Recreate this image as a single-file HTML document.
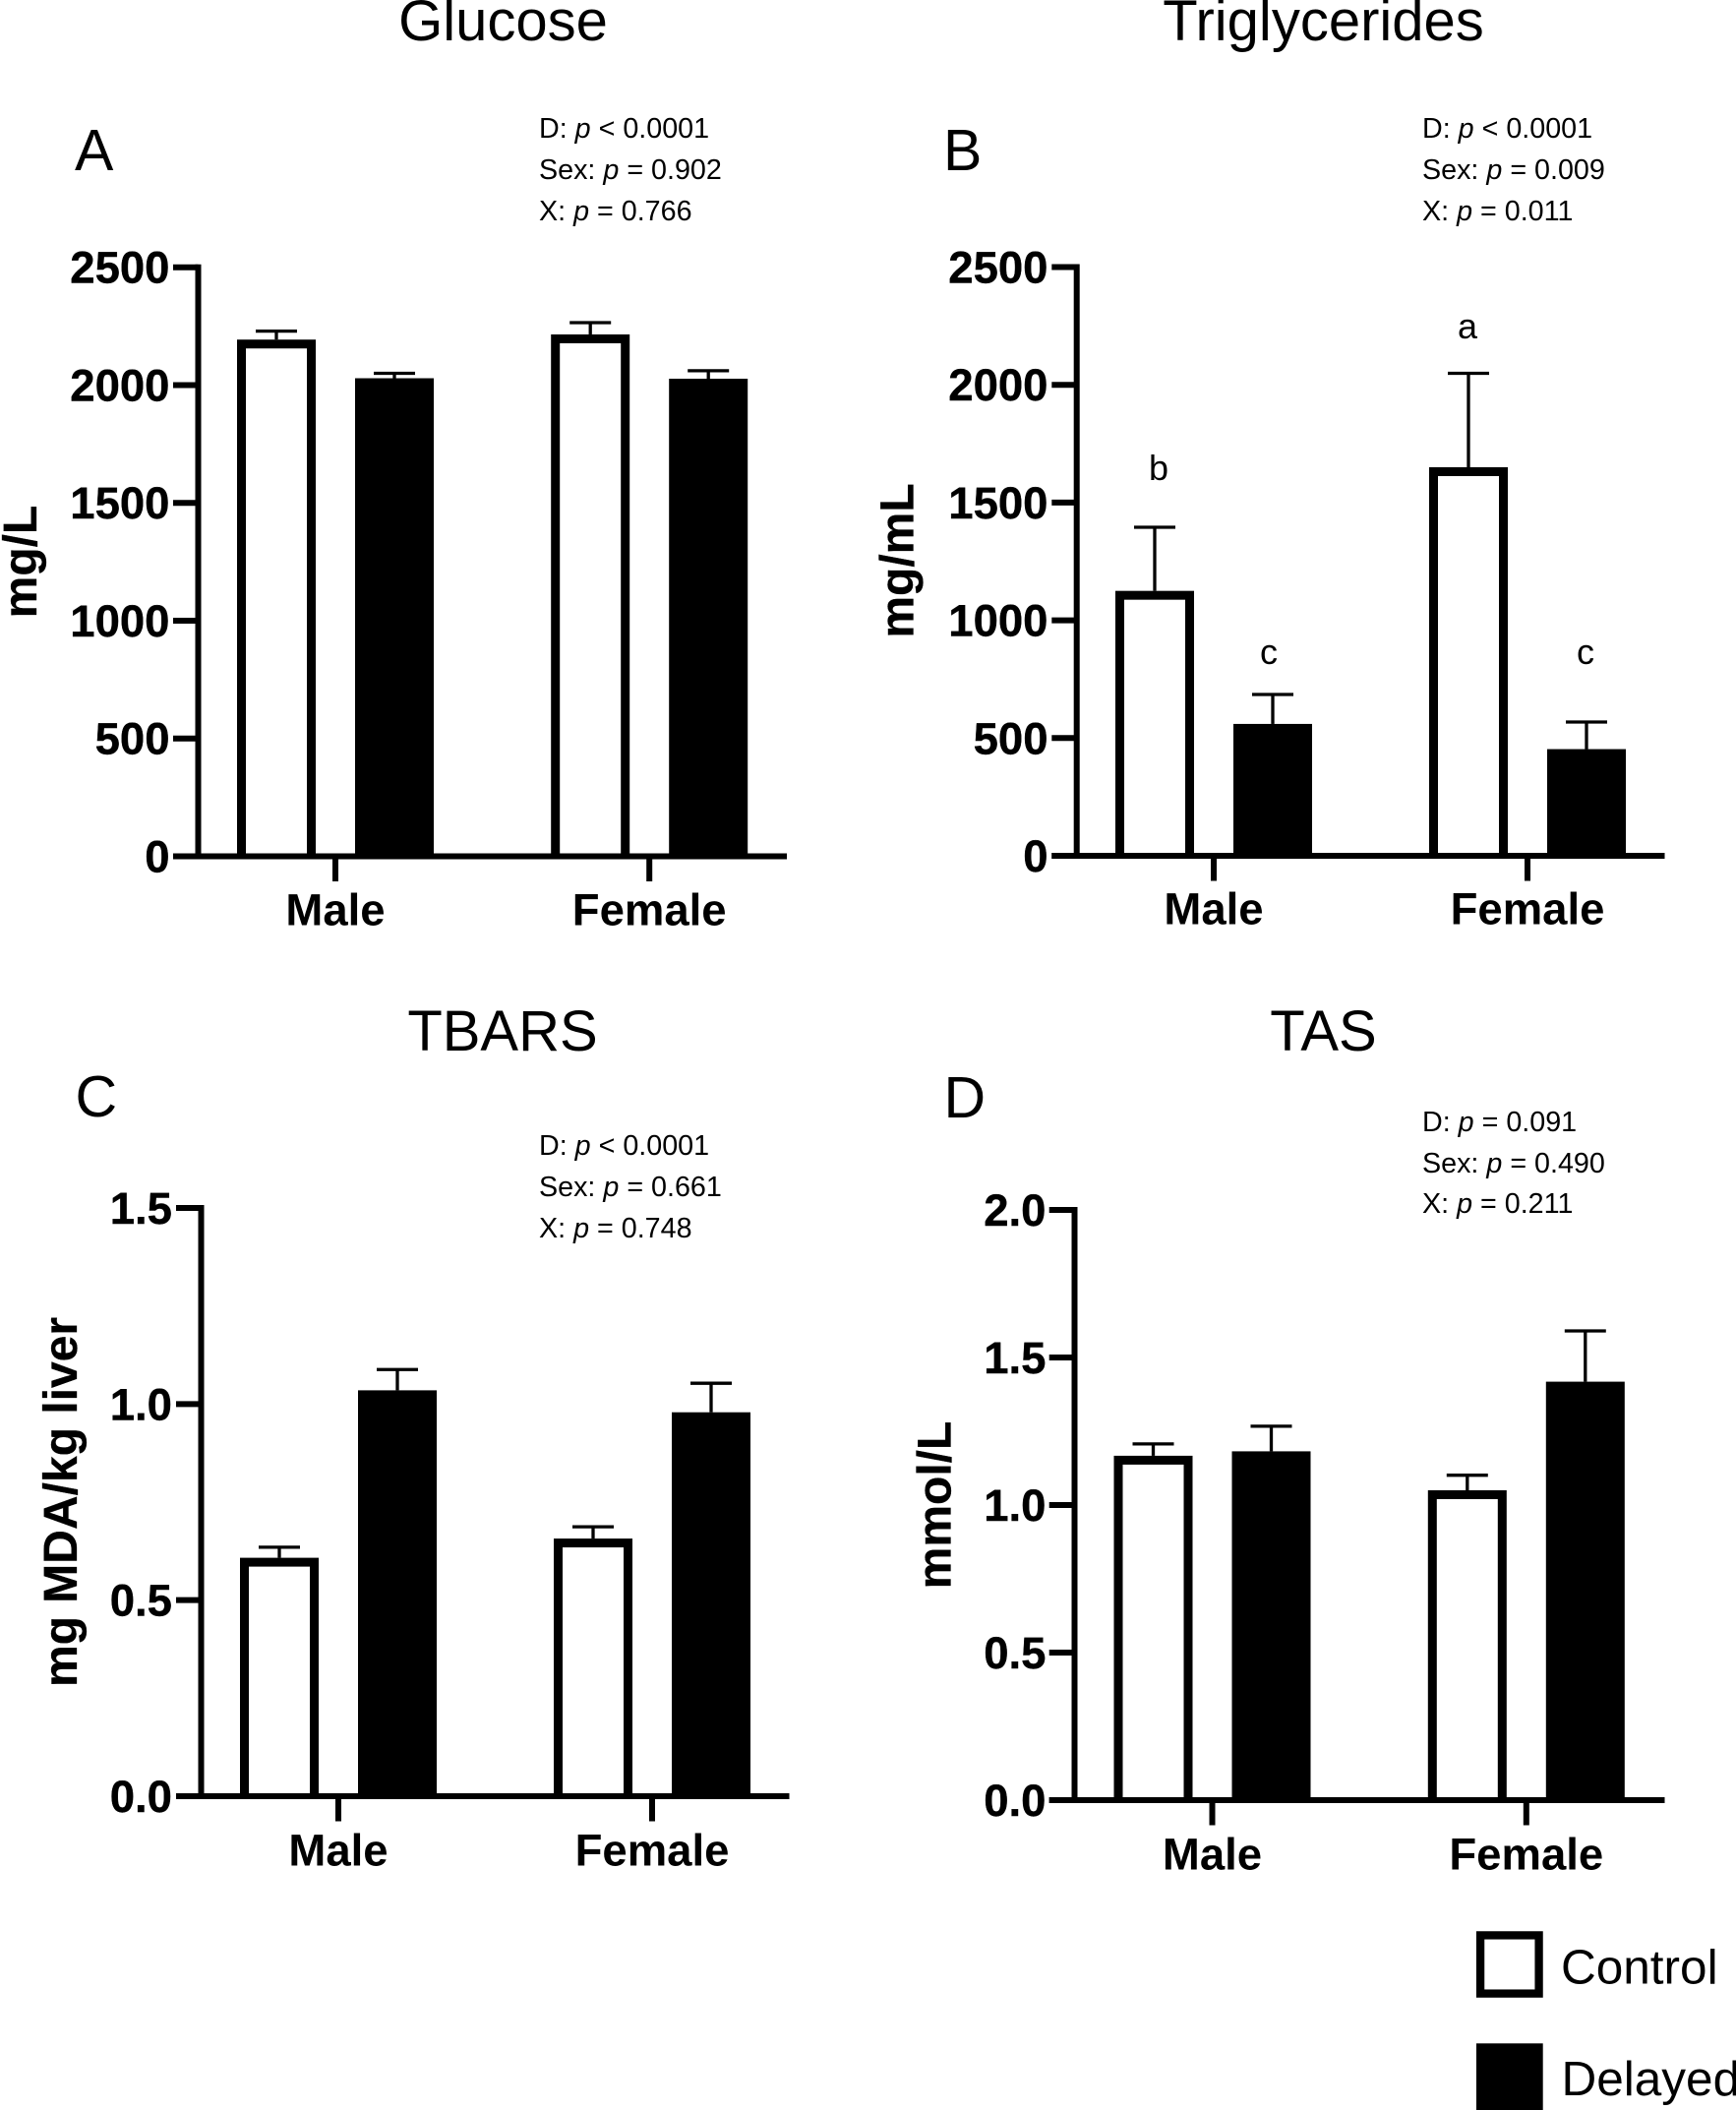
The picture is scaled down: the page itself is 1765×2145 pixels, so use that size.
<!DOCTYPE html>
<html lang="en">
<head>
<meta charset="utf-8">
<title>Glucose, Triglycerides, TBARS and TAS bar charts</title>
<style>
  html, body { margin: 0; padding: 0; background: #fff; }
  svg { display: block; }
  text { font-family: "Liberation Sans", Arial, sans-serif; fill: #000; }
  .title { font-size: 58px; text-anchor: middle; }
  .letter { font-size: 59px; }
  .stat { font-size: 28.7px; }
  .sig { font-size: 36px; text-anchor: middle; }
  .legend-text { font-size: 49.5px; }
  .tick-label { font-size: 45.5px; font-weight: bold; text-anchor: end; stroke: #000; stroke-width: 0.4px; }
  .cat-label { font-size: 45.5px; font-weight: bold; text-anchor: middle; }
  .y-title { font-size: 48px; font-weight: bold; text-anchor: middle; stroke: #000; stroke-width: 0.3px; }
</style>
</head>
<body>
<svg id="figure" xmlns="http://www.w3.org/2000/svg" width="1765" height="2145" viewBox="0 0 1765 2145">
  <rect x="0" y="0" width="1765" height="2145" fill="#fff"/>

  <text class="title" x="511.5" y="41">Glucose</text>
  <text class="title" x="1345.5" y="41">Triglycerides</text>
  <text class="title" x="511" y="1068">TBARS</text>
  <text class="title" x="1345.5" y="1068">TAS</text>

  <text class="letter" x="76" y="173">A</text>
  <text class="letter" x="959" y="173">B</text>
  <text class="letter" x="76.5" y="1135">C</text>
  <text class="letter" x="959.5" y="1136">D</text>

  <g>
    <text class="stat" x="548" y="140">D: <tspan font-style="italic">p</tspan> &lt; 0.0001</text>
    <text class="stat" x="548" y="182">Sex: <tspan font-style="italic">p</tspan> = 0.902</text>
    <text class="stat" x="548" y="224">X: <tspan font-style="italic">p</tspan> = 0.766</text>
  </g>
  <g>
    <text class="stat" x="1446" y="140">D: <tspan font-style="italic">p</tspan> &lt; 0.0001</text>
    <text class="stat" x="1446" y="182">Sex: <tspan font-style="italic">p</tspan> = 0.009</text>
    <text class="stat" x="1446" y="224">X: <tspan font-style="italic">p</tspan> = 0.011</text>
  </g>
  <g>
    <text class="stat" x="548" y="1174">D: <tspan font-style="italic">p</tspan> &lt; 0.0001</text>
    <text class="stat" x="548" y="1216">Sex: <tspan font-style="italic">p</tspan> = 0.661</text>
    <text class="stat" x="548" y="1258">X: <tspan font-style="italic">p</tspan> = 0.748</text>
  </g>
  <g>
    <text class="stat" x="1446" y="1150">D: <tspan font-style="italic">p</tspan> = 0.091</text>
    <text class="stat" x="1446" y="1192">Sex: <tspan font-style="italic">p</tspan> = 0.490</text>
    <text class="stat" x="1446" y="1233">X: <tspan font-style="italic">p</tspan> = 0.211</text>
  </g>

  <g>
    <text class="sig" x="1178" y="488">b</text>
    <text class="sig" x="1290" y="675">c</text>
    <text class="sig" x="1492" y="344">a</text>
    <text class="sig" x="1612" y="675">c</text>
  </g>

  <g>
    <rect x="1505.1" y="1967.4" width="59.5" height="59.2" fill="#fff" stroke="#000" stroke-width="8.3"/>
    <text class="legend-text" x="1587" y="2016.7">Control</text>
    <rect x="1501" y="2077.3" width="67.7" height="67.7" fill="#000"/>
    <text class="legend-text" x="1587.5" y="2130">Delayed</text>
  </g>
</svg>

<script>
const categories = ['Male', 'Female'];

const glucoseControl = [2193, 2215];
const glucoseControlErr = [36, 50];
const glucoseDelayed = [2029, 2027];
const glucoseDelayedErr = [21, 34];
const glucoseTicks = [0, 500, 1000, 1500, 2000, 2500];
const glucoseTickLabels = ['0', '500', '1000', '1500', '2000', '2500'];

const trigControl = [1125, 1650];
const trigControlErr = [270, 399];
const trigDelayed = [560, 453];
const trigDelayedErr = [125, 115];
const trigTicks = [0, 500, 1000, 1500, 2000, 2500];
const trigTickLabels = ['0', '500', '1000', '1500', '2000', '2500'];

const tbarsControl = [0.608, 0.657];
const tbarsControlErr = [0.027, 0.03];
const tbarsDelayed = [1.035, 0.979];
const tbarsDelayedErr = [0.053, 0.074];
const tbarsTicks = [0, 0.5, 1, 1.5];
const tbarsTickLabels = ['0.0', '0.5', '1.0', '1.5'];

const tasControl = [1.167, 1.05];
const tasControlErr = [0.04, 0.051];
const tasDelayed = [1.182, 1.418];
const tasDelayedErr = [0.085, 0.172];
const tasTicks = [0, 0.5, 1, 1.5, 2];
const tasTickLabels = ['0.0', '0.5', '1.0', '1.5', '2.0'];

const svg = document.getElementById('figure');
const NS = 'http://www.w3.org/2000/svg';

function make(tag, parent, attrs) {
  const node = document.createElementNS(NS, tag);
  Object.keys(attrs).forEach(function (k) { node.setAttribute(k, attrs[k]); });
  parent.appendChild(node);
  return node;
}

function drawPanel(p) {
  const yScale = function (v) { return p.bottom - (v / p.yMax) * (p.bottom - p.top); };
  const xScale = function (i) { return p.x0 + i * p.step; };
  const AXIS = 6, BAR = 80, STROKE = 9, OFFSET = 60, CAP = 42, ERR = 3.3;

  const group = make('g', svg, {});
  
  

  categories.forEach(function (cat, i) {
    const cx = xScale(i);
    const key = cat.toLowerCase();

    // Control bar: black outer shape with a white interior, open at the axis
    const cCenter = cx - OFFSET;
    const cTop = yScale(p.control[i]);
    const cErr = yScale(p.control[i] + p.controlErr[i]);
    const cStem = make('line', group, { x1: cCenter, x2: cCenter, y1: cTop, y2: cErr, stroke: '#000', 'stroke-width': ERR });
    
    
    const cCap = make('line', group, { x1: cCenter - CAP / 2, x2: cCenter + CAP / 2, y1: cErr, y2: cErr, stroke: '#000', 'stroke-width': ERR });
    
    
    const cBar = make('rect', group, {
      x: cCenter - BAR / 2,
      y: cTop,
      width: BAR,
      height: Math.max(0, p.bottom - cTop),
      fill: '#000'
    });
    
    
    const cFill = make('rect', group, {
      x: cCenter - BAR / 2 + STROKE,
      y: cTop + STROKE,
      width: BAR - 2 * STROKE,
      height: Math.max(0, p.bottom - cTop - STROKE),
      fill: '#fff'
    });
    
    

    // Delayed bar
    const dCenter = cx + OFFSET;
    const dTop = yScale(p.delayed[i]);
    const dErr = yScale(p.delayed[i] + p.delayedErr[i]);
    const dStem = make('line', group, { x1: dCenter, x2: dCenter, y1: dTop, y2: dErr, stroke: '#000', 'stroke-width': ERR });
    
    
    const dCap = make('line', group, { x1: dCenter - CAP / 2, x2: dCenter + CAP / 2, y1: dErr, y2: dErr, stroke: '#000', 'stroke-width': ERR });
    
    
    const dBar = make('rect', group, {
      x: dCenter - BAR / 2,
      y: dTop,
      width: BAR,
      height: Math.max(0, p.bottom - dTop),
      fill: '#000'
    });
    
    

    // Category tick and label
    const xTick = make('line', group, { x1: cx, x2: cx, y1: p.bottom, y2: p.bottom + 25.5, stroke: '#000', 'stroke-width': AXIS });
    
    
    const xLabel = make('text', group, { class: 'cat-label', x: cx, y: p.catY });
    
    
    xLabel.textContent = cat;
  });

  // Y axis
  const yAxis = make('line', group, { x1: p.axisX, x2: p.axisX, y1: p.top - AXIS / 2, y2: p.bottom + AXIS / 2, stroke: '#000', 'stroke-width': AXIS });
  
  

  // X axis
  const xAxis = make('line', group, { x1: p.tickLeft, x2: p.right, y1: p.bottom, y2: p.bottom, stroke: '#000', 'stroke-width': AXIS });
  
  

  // Y ticks
  p.ticks.forEach(function (t, i) {
    const y = yScale(t);
    const tick = make('line', group, { x1: p.tickLeft, x2: p.axisX, y1: y, y2: y, stroke: '#000', 'stroke-width': AXIS });
    
    
    const label = make('text', group, { class: 'tick-label', x: p.labelRight, y: y + 16 });
    
    
    label.textContent = p.tickLabels[i];
  });

  // Y title
  const yTitle = make('text', group, {
    class: 'y-title', x: 0, y: 0,
    transform: 'translate(' + p.titleX + ',' + p.titleY + ') rotate(-90)'
  });
  
  
  yTitle.textContent = p.yTitle;
}

drawPanel({
  name: 'glucose', yMax: 2500, top: 271.7, bottom: 870.5, x0: 341, step: 319.2,
  axisX: 201.5, tickLeft: 176, right: 800, labelRight: 172.5, catY: 940.5,
  titleX: 37, titleY: 571, yTitle: 'mg/L',
  control: glucoseControl, controlErr: glucoseControlErr,
  delayed: glucoseDelayed, delayedErr: glucoseDelayedErr,
  ticks: glucoseTicks, tickLabels: glucoseTickLabels
});

drawPanel({
  name: 'triglycerides', yMax: 2500, top: 271.5, bottom: 870, x0: 1234, step: 319,
  axisX: 1094.7, tickLeft: 1069.3, right: 1692.5, labelRight: 1065.5, catY: 939.5,
  titleX: 928.3, titleY: 570, yTitle: 'mg/mL',
  control: trigControl, controlErr: trigControlErr,
  delayed: trigDelayed, delayedErr: trigDelayedErr,
  ticks: trigTicks, tickLabels: trigTickLabels
});

drawPanel({
  name: 'tbars', yMax: 1.5, top: 1228, bottom: 1826, x0: 344, step: 319,
  axisX: 204.5, tickLeft: 179, right: 802.5, labelRight: 175, catY: 1896.5,
  titleX: 78, titleY: 1527, yTitle: 'mg MDA/kg liver',
  control: tbarsControl, controlErr: tbarsControlErr,
  delayed: tbarsDelayed, delayedErr: tbarsDelayedErr,
  ticks: tbarsTicks, tickLabels: tbarsTickLabels
});

drawPanel({
  name: 'tas', yMax: 2, top: 1230, bottom: 1830, x0: 1232.5, step: 319.3,
  axisX: 1092.5, tickLeft: 1066.7, right: 1692.5, labelRight: 1063.5, catY: 1900.5,
  titleX: 966.7, titleY: 1530, yTitle: 'mmol/L',
  control: tasControl, controlErr: tasControlErr,
  delayed: tasDelayed, delayedErr: tasDelayedErr,
  ticks: tasTicks, tickLabels: tasTickLabels
});
</script>
</body>
</html>
